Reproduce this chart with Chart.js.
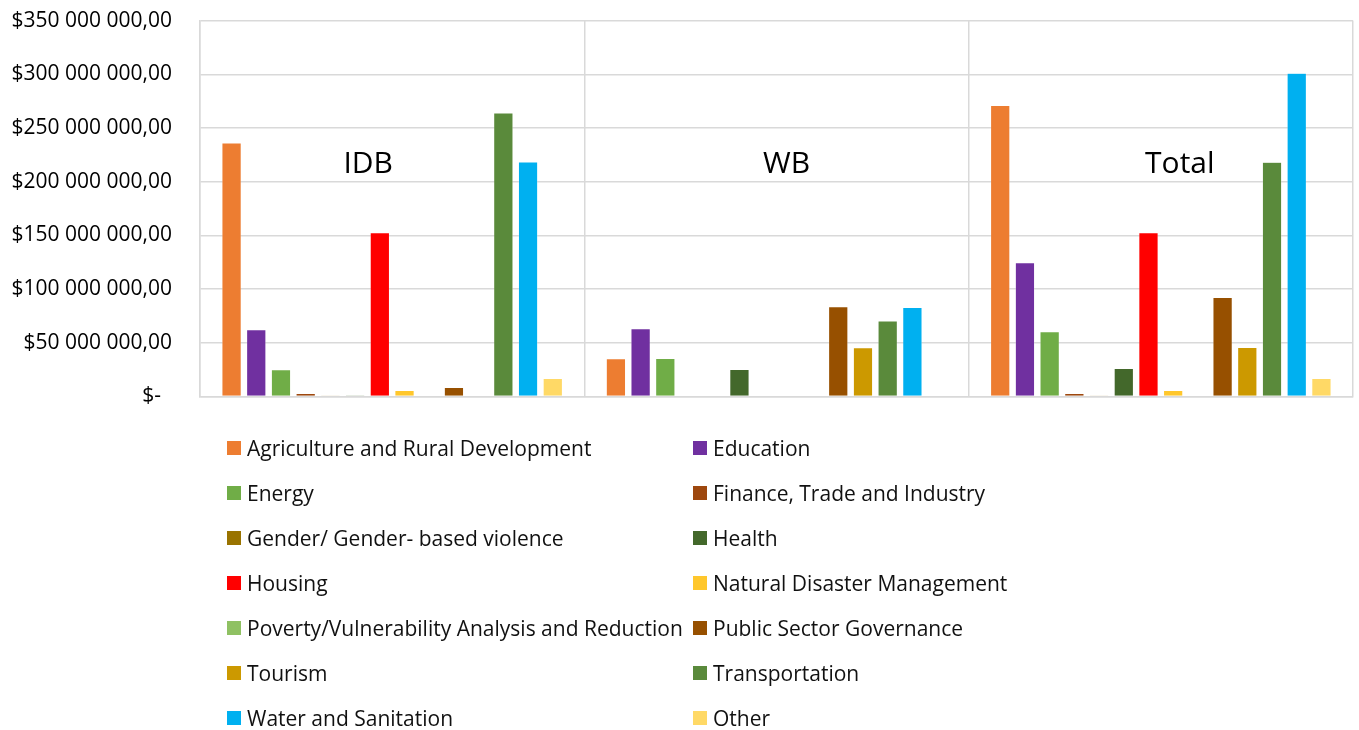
<!DOCTYPE html>
<html>
<head>
<meta charset="utf-8">
<title>IDB / WB funding by sector</title>
<script src="https://cdn.jsdelivr.net/npm/chart.js@4"></script>
<style>
    body { margin: 0; background: #fff; font-family: "Open Sans", sans-serif; overflow: hidden; }
    #wrap { position: relative; width: 1359px; height: 730px; overflow: hidden; }
    #js-chart { position: absolute; left: 0; top: -20px; }
    #js-legend {
        position: absolute; left: 227px; top: 425px;
        display: grid; grid-template-columns: 466px 400px; grid-auto-rows: 45px;
        font-size: 21px; color: #111;
    }
    .legend-item { display: flex; align-items: center; white-space: nowrap; }
    .legend-box { width: 14px; height: 14px; margin-right: 6px; flex: none; }
</style>
</head>
<body>
<div id="wrap">
    <canvas id="js-chart" width="1359" height="457"></canvas>
    <div id="js-legend"></div>
</div>
<script>
var groups = ["IDB", "WB", "Total"];

var sectors = [
    "Agriculture and Rural Development", "Education", "Energy", "Finance, Trade and Industry",
    "Gender/ Gender- based violence", "Health", "Housing", "Natural Disaster Management",
    "Poverty/Vulnerability Analysis and Reduction", "Public Sector Governance", "Tourism",
    "Transportation", "Water and Sanitation", "Other"
];

// values per sector, in order IDB, WB, Total
var agriculture = [236000000, 35000000, 271000000];
var education = [62000000, 63000000, 124500000];
var energy = [24800000, 35300000, 60100000];
var finance = [2800000, 0, 2800000];
var gender = [900000, 0, 900000];
var health = [1000000, 25100000, 26100000];
var housing = [152300000, 0, 152300000];
var naturalDisaster = [5600000, 0, 5600000];
var poverty = [0, 0, 0];
var publicSector = [8400000, 83600000, 92000000];
var tourism = [600000, 45200000, 45500000];
var transportation = [264000000, 70300000, 218000000];
var water = [218300000, 82700000, 301000000];
var other = [16700000, 0, 16700000];

var yTicks = [0, 50000000, 100000000, 150000000, 200000000, 250000000, 300000000, 350000000];

var seriesValues = [agriculture, education, energy, finance, gender, health, housing,
    naturalDisaster, poverty, publicSector, tourism, transportation, water, other];

var colors = ["#ED7D31", "#7030A0", "#70AD47", "#9E480E", "#997300", "#43682B", "#FF0000",
    "#FFC72C", "#8FC163", "#975000", "#CC9900", "#5A8A3B", "#00B0F0", "#FFD966"];

// where the group names sit (pixel nudge from category centre, and a height on the y scale)
var groupLabelOffsets = [-24, 10, 19];
var groupLabelLevel = 216000000;

function formatMoney(value) {
    if (value === 0) {
        return "$-  ";
    }
    var s = String(Math.round(value));
    s = s.replace(/\B(?=(\d{3})+(?!\d))/g, " ");
    return "$" + s + ",00";
}

var groupLabels = {
    id: "groupLabels",
    afterDatasetsDraw: function (chart) {
        var ctx = chart.ctx;
        var xScale = chart.scales.x;
        var yScale = chart.scales.y;
        ctx.save();
        ctx.font = "30px 'Open Sans'";
        ctx.fillStyle = "#000";
        ctx.textAlign = "center";
        ctx.textBaseline = "middle";
        groups.forEach(function (name, i) {
            var x = xScale.getPixelForValue(i) + groupLabelOffsets[i];
            var y = yScale.getPixelForValue(groupLabelLevel);
            ctx.fillText(name, x, y);
        });
        ctx.restore();
    }
};

var datasets = sectors.map(function (name, i) {
    return {
        label: name,
        data: seriesValues[i],
        backgroundColor: colors[i],
        borderColor: "rgba(255,255,255,0.6)",
        borderWidth: 0.5,
        barPercentage: 0.78,
        categoryPercentage: 0.9
    };
});

var chart = new Chart(document.getElementById("js-chart"), {
    type: "bar",
    data: {
        labels: groups,
        datasets: datasets
    },
    options: {
        responsive: false,
        animation: false,
        layout: {
            padding: { top: 8, right: 6, bottom: 0, left: 0 }
        },
        plugins: {
            legend: { display: false },
            tooltip: { enabled: false }
        },
        scales: {
            x: {
                ticks: { display: false },
                grid: { color: "#D9D9D9", lineWidth: 1.5, drawTicks: false, offset: true },
                border: { color: "#D9D9D9", width: 1.5 }
            },
            y: {
                min: 0,
                max: 350000000,
                afterFit: function (scale) {
                    scale.width = 200;
                },
                afterBuildTicks: function (scale) {
                    scale.ticks = yTicks.map(function (v) { return { value: v }; });
                },
                ticks: {
                    padding: 28,
                    color: "#000",
                    font: { family: "Open Sans", size: 21 },
                    callback: function (value) { return formatMoney(value); }
                },
                grid: { color: "#D9D9D9", lineWidth: 1.5, drawTicks: false },
                border: { color: "#D9D9D9", width: 1.5 }
            }
        }
    },
    plugins: [groupLabels]
});

// two column legend built from the chart's own datasets
var legend = document.getElementById("js-legend");
chart.data.datasets.forEach(function (ds) {
    var item = document.createElement("div");
    item.className = "legend-item";
    var box = document.createElement("span");
    box.className = "legend-box";
    box.style.background = ds.backgroundColor;
    var text = document.createElement("span");
    text.textContent = ds.label;
    item.appendChild(box);
    item.appendChild(text);
    legend.appendChild(item);
});
</script>
</body>
</html>
